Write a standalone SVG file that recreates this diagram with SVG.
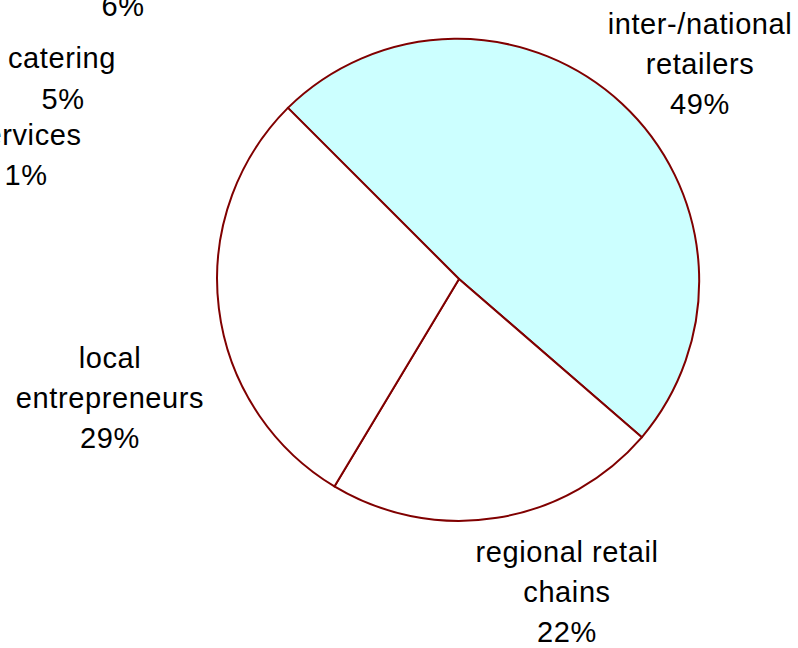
<svg xmlns="http://www.w3.org/2000/svg" width="798" height="648" viewBox="0 0 798 648">
<style>
.slice{stroke:#800000;stroke-width:2;stroke-linejoin:round}
.lbl{font-family:"Liberation Sans",Arial,Helvetica,sans-serif;font-size:29px;letter-spacing:0.6px;fill:#000;text-anchor:middle}
</style>
<rect width="798" height="648" fill="#fff"/>
<g id="connectors"></g>
<g id="slice-inter-national">
<path class="slice" fill="#ccffff" d="M459,279 L287.9,107.9 A242,242 0 0 1 641.8,437.3 Z"/>
</g>
<g id="slice-regional">
<path class="slice" fill="#ffffff" d="M459,279 L641.8,437.3 A242,242 0 0 1 334.4,486.4 Z"/>
</g>
<g id="slice-local">
<path class="slice" fill="#ffffff" d="M459,279 L334.4,486.4 A242,242 0 0 1 287.9,107.9 Z"/>
</g>
<g id="label-inter-national">
<text class="lbl" x="700" y="34">inter-/national</text>
<text class="lbl" x="700" y="74">retailers</text>
<text class="lbl" x="700" y="114">49%</text>
</g>
<g id="label-local">
<text class="lbl" x="110" y="368">local</text>
<text class="lbl" x="110" y="408">entrepreneurs</text>
<text class="lbl" x="110" y="448">29%</text>
</g>
<g id="label-regional">
<text class="lbl" x="567" y="562">regional retail</text>
<text class="lbl" x="567" y="602">chains</text>
<text class="lbl" x="567" y="642">22%</text>
</g>
<g id="label-6">
<text class="lbl" x="123" y="16">6%</text>
</g>
<g id="label-catering">
<text class="lbl" x="62" y="68">catering</text>
<text class="lbl" x="63" y="109">5%</text>
</g>
<g id="label-services">
<text class="lbl" x="26" y="145">services</text>
<text class="lbl" x="26" y="185">1%</text>
</g>
</svg>
